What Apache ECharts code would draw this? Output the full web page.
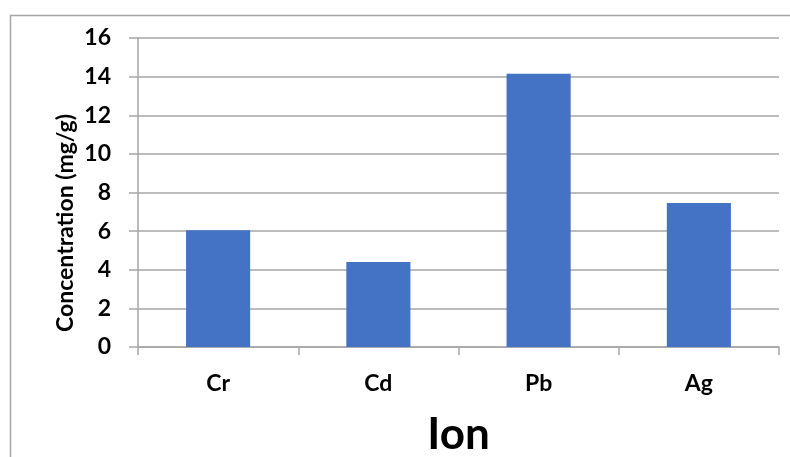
<!DOCTYPE html>
<html>
<head>
<meta charset="utf-8">
<script src="https://cdn.jsdelivr.net/npm/echarts@6/dist/echarts.min.js"></script>
<style>
  html, body { margin: 0; padding: 0; background: #fff; }
  #chart { width: 790px; height: 457px; }
</style>
</head>
<body>
<div id="chart"></div>
<script>
// Metal ions and their concentrations (mg/g)
const ions = ['Cr', 'Cd', 'Pb', 'Ag'];
const concentration = [6.05, 4.4, 14.15, 7.45];
const yTicks = [0, 2, 4, 6, 8, 10, 12, 14, 16];
const yTitle = 'Concentration (mg/g)';
const xTitle = 'Ion';

const FONT = 'Lato, "Open Sans", "Liberation Sans", sans-serif';
const GRID_GRAY = '#A6A6A6';

const chart = echarts.init(document.getElementById('chart'), null, { renderer: 'canvas' });

chart.setOption({
  backgroundColor: '#ffffff',
  animation: false,
  graphic: [
    {
      type: 'rect',
      shape: { x: 10.5, y: 15.5, width: 800, height: 500 },
      style: { fill: 'none', stroke: GRID_GRAY, lineWidth: 1.5 },
      silent: true
    },
    {
      // vertical axis title, sitting a little below the plot's middle
      type: 'text',
      x: 66,
      y: 223,
      rotation: Math.PI / 2,
      style: {
        text: yTitle,
        fontFamily: FONT,
        fontWeight: 'bold',
        fontSize: 23,
        fill: '#000',
        align: 'center',
        verticalAlign: 'middle'
      },
      silent: true
    }
  ],
  grid: { left: 138, right: 11, top: 38, bottom: 110, outerBoundsMode: 'none', containLabel: false },
  xAxis: {
    type: 'category',
    data: ions,
    name: xTitle,
    nameLocation: 'middle',
    nameGap: 88,
    nameTextStyle: { fontFamily: FONT, fontWeight: 'bold', fontSize: 44, color: '#000', verticalAlign: 'middle' },
    axisLine: { show: true, lineStyle: { color: GRID_GRAY, width: 1.5 } },
    axisTick: { show: true, alignWithLabel: false, length: 8, lineStyle: { color: GRID_GRAY, width: 1.5 } },
    axisLabel: { fontFamily: FONT, fontWeight: 'bold', fontSize: 23, color: '#000', margin: 25 }
  },
  yAxis: {
    type: 'value',
    min: yTicks[0],
    max: yTicks[yTicks.length - 1],
    interval: 2,
    axisLine: { show: true, lineStyle: { color: GRID_GRAY, width: 1.5 } },
    axisTick: { show: true, inside: false, length: 9, lineStyle: { color: GRID_GRAY, width: 1.5 } },
    axisLabel: { fontFamily: FONT, fontWeight: 'bold', fontSize: 23, color: '#000', margin: 27 },
    splitLine: { show: true, lineStyle: { color: GRID_GRAY, width: 1.5 } }
  },
  series: [{
    type: 'bar',
    data: concentration,
    barWidth: '40%',
    itemStyle: { color: '#4472C4' }
  }]
});
</script>
</body>
</html>
